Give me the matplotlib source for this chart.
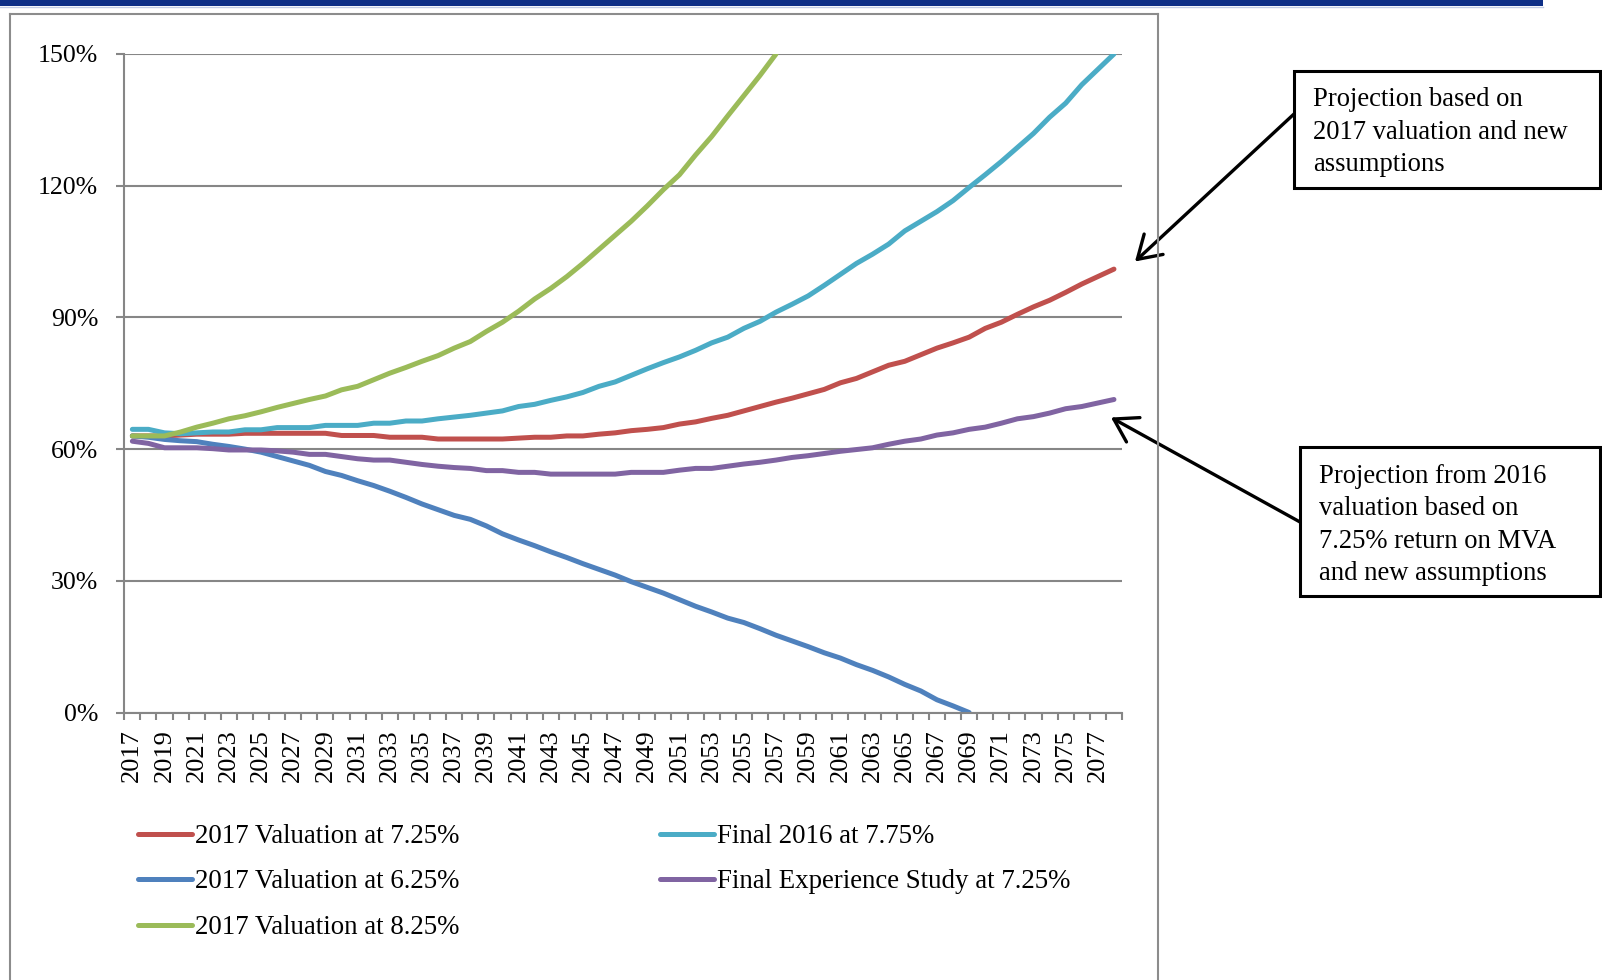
import matplotlib
matplotlib.use("Agg")
import matplotlib.pyplot as plt
from matplotlib.patches import Rectangle, FancyArrowPatch
from matplotlib.lines import Line2D
import numpy as np


YEARS = list(range(2017, 2079))

# funded ratio projections, in percent
VAL_725 = [63.0, 63.0, 63.0, 63.2, 63.4, 63.4, 63.4, 63.6, 63.6, 63.6, 63.6, 63.6, 63.6, 63.1, 63.1,
           63.1, 62.7, 62.7, 62.7, 62.3, 62.3,
           62.3, 62.3, 62.3, 62.5, 62.7, 62.7, 63.0, 63.0, 63.4, 63.7, 64.2, 64.5, 64.9, 65.7,
           66.2, 67.0, 67.7, 68.7, 69.7, 70.7,
           71.6, 72.6, 73.6, 75.1, 76.1, 77.6, 79.1, 80.0, 81.5, 83.0, 84.2, 85.5, 87.5, 88.9,
           90.7, 92.4, 93.9, 95.7, 97.6, 99.3, 101.0]
FINAL_2016 = [64.5, 64.5, 63.7, 63.5, 63.7, 63.9, 63.9, 64.4, 64.4, 64.9, 64.9, 64.9, 65.4, 65.4,
              65.4, 65.9, 65.9, 66.4, 66.4, 66.9, 67.3,
              67.7, 68.2, 68.7, 69.7, 70.2, 71.1, 71.9, 72.9, 74.3, 75.3, 76.8, 78.3, 79.7, 81.0,
              82.5, 84.2, 85.5, 87.5, 89.1, 91.2,
              93.0, 94.9, 97.3, 99.8, 102.3, 104.4, 106.7, 109.7, 111.9, 114.1, 116.6, 119.6,
              122.5, 125.5, 128.7, 131.9, 135.6, 138.8, 143.0, 146.5, 150.0]
VAL_625 = [63.0, 62.7, 62.2, 61.9, 61.7, 61.1, 60.6, 60.0, 59.3, 58.3, 57.3, 56.3, 54.9, 54.0,
           52.8, 51.7, 50.4, 49.0, 47.5, 46.2, 44.9,
           44.0, 42.5, 40.7, 39.3, 38.0, 36.6, 35.3, 33.9, 32.6, 31.3, 29.8, 28.5, 27.2, 25.7,
           24.2, 22.9, 21.5, 20.5, 19.1, 17.6,
           16.3, 15.0, 13.6, 12.4, 10.9, 9.6, 8.1, 6.4, 4.9, 2.9, 1.5, 0.0]
EXP_STUDY = [61.8, 61.3, 60.3, 60.3, 60.3, 60.1, 59.8, 59.8, 59.8, 59.6, 59.3, 58.8, 58.8, 58.3,
             57.8, 57.5, 57.5, 57.0, 56.5, 56.1, 55.8,
             55.6, 55.1, 55.1, 54.7, 54.7, 54.3, 54.3, 54.3, 54.3, 54.3, 54.7, 54.7, 54.7, 55.2,
             55.6, 55.6, 56.1, 56.6, 57.0, 57.5,
             58.1, 58.5, 59.0, 59.5, 59.9, 60.3, 61.1, 61.8, 62.3, 63.2, 63.7, 64.5, 65.0, 65.9,
             66.9, 67.4, 68.2, 69.2, 69.7, 70.5, 71.3]
VAL_825 = [63.0, 63.0, 63.0, 63.9, 65.0, 65.9, 66.9, 67.6, 68.5, 69.5, 70.4, 71.3, 72.1, 73.5,
           74.3, 75.8, 77.3, 78.6, 80.0, 81.3, 83.0,
           84.5, 86.8, 88.9, 91.4, 94.2, 96.6, 99.3, 102.3, 105.5, 108.7, 111.9, 115.4, 119.1,
           122.5, 127.0, 131.2, 135.9, 140.5, 145.1, 150.0]

SERIES = [
    ("2017 Valuation at 7.25%", VAL_725, "#C0504D"),
    ("Final 2016 at 7.75%", FINAL_2016, "#4BACC6"),
    ("2017 Valuation at 6.25%", VAL_625, "#4F81BD"),
    ("Final Experience Study at 7.25%", EXP_STUDY, "#8064A2"),
    ("2017 Valuation at 8.25%", VAL_825, "#9BBB59"),
]
Y_TICKS = [0, 30, 60, 90, 120, 150]

W, H = 1602, 980
GRID = "#868686"
SERIF = "Liberation Serif"


def fx(x):
    return x / W


def fy(y):
    return 1 - y / H


def main():
    fig = plt.figure(figsize=(W / 100, H / 100), dpi=100)

    # header strip and chart frame
    fig.add_artist(Rectangle((0, fy(6)), fx(1543), 6 / H, transform=fig.transFigure,
                             color="#0E2F87", lw=0))
    fig.add_artist(Line2D([0, fx(1543)], [fy(7), fy(7)], color="#C3CDE6", lw=1))
    for xs, ys in [([10, 10], [14, 980]), ([10, 1158], [14, 14]), ([1158, 1158], [14, 980])]:
        fig.add_artist(Line2D([fx(v) for v in xs], [fy(v) for v in ys], color="#8C8C8C", lw=1.5))

    ax = fig.add_axes([fx(124.3), fy(712.5), fx(1122) - fx(124.3), fy(54) - fy(712.5)])

    handles = {}
    for name, vals, color in SERIES:
        line, = ax.plot(YEARS[:len(vals)], vals, color=color, lw=3.6,
                        solid_capstyle="round", solid_joinstyle="round", label=name)
        handles[name] = line

    ax.set_xlim(YEARS[0] - 0.5, YEARS[-1] + 0.5)
    ax.set_ylim(0, 150)
    ax.set_yticks(Y_TICKS)
    ax.set_yticklabels(["%d%%" % v for v in Y_TICKS], fontfamily=SERIF, fontsize=18.6)
    ax.yaxis.grid(True, color=GRID, lw=1.5)
    ax.set_axisbelow(True)

    ax.set_xticks(np.arange(YEARS[0] - 0.5, YEARS[-1] + 1))
    ax.set_xticklabels([])
    ax.set_xticks(YEARS[::2], minor=True)
    ax.set_xticklabels([str(y) for y in YEARS[::2]], minor=True, rotation=90,
                       fontfamily=SERIF, fontsize=19)

    ax.tick_params(axis="y", direction="out", length=5.8, width=1.5, color=GRID, pad=13)
    ax.tick_params(axis="x", which="major", direction="out", length=5, width=1.5, color=GRID)
    ax.tick_params(axis="x", which="minor", length=0, pad=12)
    for side in ["top", "right"]:
        ax.spines[side].set_visible(False)
    for side in ["left", "bottom"]:
        ax.spines[side].set_color(GRID)
        ax.spines[side].set_linewidth(1.5)

    order = ["2017 Valuation at 7.25%", "2017 Valuation at 6.25%", "2017 Valuation at 8.25%",
             "Final 2016 at 7.75%", "Final Experience Study at 7.25%"]
    fig.legend([handles[n] for n in order], order, loc="upper left",
               bbox_to_anchor=(fx(138), fy(824)), ncol=2, frameon=False,
               prop={"family": SERIF, "size": 19.4}, handlelength=2.0, handletextpad=0.12,
               columnspacing=7.45, labelspacing=0.76, borderpad=0, borderaxespad=0)

    # callout boxes
    fig.add_artist(Rectangle((fx(1294), fy(188)), fx(1600) - fx(1294), fy(71) - fy(188),
                             transform=fig.transFigure, fill=False, ec="black", lw=2.2))
    fig.text(fx(1313), fy(132), "Projection based on\n2017 valuation and new\nassumptions",
             family=SERIF, fontsize=19.2, va="center", ha="left", linespacing=1.39)
    fig.add_artist(Rectangle((fx(1300), fy(596)), fx(1600) - fx(1300), fy(447) - fy(596),
                             transform=fig.transFigure, fill=False, ec="black", lw=2.2))
    fig.text(fx(1319), fy(525),
             "Projection from 2016\nvaluation based on\n7.25% return on MVA\nand new assumptions",
             family=SERIF, fontsize=19.2, va="center", ha="left", linespacing=1.39)

    arrow = dict(arrowstyle="->,head_length=0.8,head_width=0.5", color="black", lw=2.4,
                 mutation_scale=20, shrinkA=0, shrinkB=0)
    fig.add_artist(FancyArrowPatch((fx(1294), fy(114)), (fx(1135), fy(261.5)),
                                   transform=fig.transFigure, **arrow))
    fig.add_artist(FancyArrowPatch((fx(1300), fy(522)), (fx(1111), fy(417.5)),
                                   transform=fig.transFigure, **arrow))

    fig.savefig("out.png", dpi=100)


if __name__ == "__main__":
    main()
